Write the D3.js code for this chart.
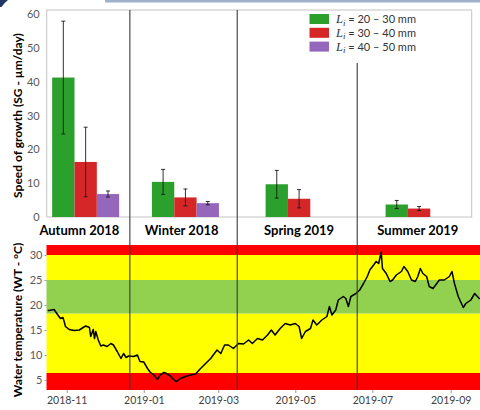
<!DOCTYPE html>
<html><head><meta charset="utf-8">
<script src="https://cdn.jsdelivr.net/npm/d3@7"></script>
<style>body{margin:0;background:#fff}svg{display:block}</style>
</head><body>
<script>
// ---------- DATA ----------
const categories = ["Autumn 2018", "Winter 2018", "Spring 2019", "Summer 2019"];
const groupDates = ["2018-11-16", "2019-02-03", "2019-05-04", "2019-08-07"];
const labelDates = ["2018-11-11", "2019-01-31", "2019-05-04", "2019-08-06"];
const seriesRanges = ["20 – 30 mm", "30 – 40 mm", "40 – 50 mm"];
const sg2030 = [41.3, 10.4, 9.7, 3.7];
const sg3040 = [16.3, 5.8, 5.4, 2.5];
const sg4050 = [6.8, 4.1, null, null];
const err2030 = [16.7, 3.7, 4.1, 1.2];
const err3040 = [10.3, 2.5, 2.7, 0.6];
const err4050 = [0.9, 0.5, null, null];
const topTicks = [0, 10, 20, 30, 40, 50, 60];

const seasonBreaks = ["2018-12-21", "2019-03-16", "2019-06-19"];
const bandEdges = [3, 6.4, 18.3, 25, 30, 32];
const bandColors = ["#ff0000", "#ffff00", "#92d050", "#ffff00", "#ff0000"];
const bottomTicks = [5, 10, 15, 20, 25, 30];
const dateTicks = ["2018-11-01", "2019-01-01", "2019-03-01", "2019-05-01", "2019-07-01", "2019-09-01"];

const tempDates = ["2018-10-17","2018-10-18","2018-10-22","2018-10-25","2018-10-27","2018-10-29","2018-10-30","2018-10-31",
"2018-11-03","2018-11-07","2018-11-11","2018-11-14","2018-11-16","2018-11-19","2018-11-20","2018-11-22","2018-11-23","2018-11-24",
"2018-11-26","2018-11-28","2018-11-30","2018-12-03","2018-12-06","2018-12-08","2018-12-11","2018-12-14","2018-12-16","2018-12-18",
"2018-12-20","2018-12-24","2018-12-27","2018-12-29","2019-01-01","2019-01-04","2019-01-06","2019-01-09","2019-01-12","2019-01-14",
"2019-01-17","2019-01-19","2019-01-22","2019-01-25","2019-01-27","2019-01-30","2019-02-03","2019-02-07","2019-02-11","2019-02-15",
"2019-02-19","2019-02-23","2019-02-28","2019-03-03","2019-03-06","2019-03-09","2019-03-13","2019-03-17","2019-03-21","2019-03-25",
"2019-03-28","2019-04-01","2019-04-05","2019-04-09","2019-04-12","2019-04-15","2019-04-19","2019-04-23","2019-04-27","2019-05-01",
"2019-05-04","2019-05-06","2019-05-09","2019-05-13","2019-05-15","2019-05-18","2019-05-22","2019-05-26","2019-05-28","2019-05-30",
"2019-06-02","2019-06-04","2019-06-08","2019-06-10","2019-06-12","2019-06-14","2019-06-18","2019-06-21","2019-06-24","2019-06-27",
"2019-06-29","2019-07-02","2019-07-04","2019-07-06","2019-07-08","2019-07-09","2019-07-12","2019-07-15","2019-07-17","2019-07-20",
"2019-07-24","2019-07-26","2019-07-29","2019-08-01","2019-08-04","2019-08-06","2019-08-08","2019-08-10","2019-08-13","2019-08-15",
"2019-08-18","2019-08-21","2019-08-23","2019-08-27","2019-08-31","2019-09-02","2019-09-04","2019-09-07","2019-09-11","2019-09-13",
"2019-09-17","2019-09-20","2019-09-24"];
const tempValues = [18.9,18.9,19.1,18.0,17.3,17.5,16.7,15.7,
15.1,14.9,15.0,15.5,15.8,15.5,13.7,15.1,13.3,14.7,
13.0,11.8,12.0,11.7,12.3,12.0,10.7,9.3,10.3,9.5,
9.8,9.7,10.0,8.7,8.6,7.3,6.6,6.0,5.1,6.0,
6.5,6.3,5.8,5.0,4.7,5.3,5.7,6.0,6.2,7.3,
8.3,9.3,11.0,10.3,12.0,12.0,11.3,12.3,12.2,13.0,
12.3,13.3,13.0,14.0,15.0,14.0,15.3,16.3,16.0,16.3,
15.7,13.3,14.7,15.3,17.0,16.0,17.0,17.7,19.7,18.0,
19.0,21.0,21.7,21.3,19.7,21.7,22.3,23.0,24.3,25.7,
27.0,28.0,28.7,28.3,30.6,27.3,26.3,24.7,25.0,26.0,
26.7,27.7,26.7,25.0,24.7,25.7,27.3,26.3,25.7,23.7,
23.3,24.3,25.0,25.0,25.7,26.7,24.3,21.7,19.5,20.3,
21.0,22.3,21.2];

// ---------- CHART ----------
const parse = d3.timeParse("%Y-%m-%d");
const W = 480, H = 410;
const svg = d3.select("body").append("svg").attr("width", W).attr("height", H)
  .style("font-family", "Lato, 'Open Sans', sans-serif");

// slide decorations at top
svg.append("rect").attr("x", 105).attr("y", 0).attr("width", 375).attr("height", 2.5).attr("fill", "#9fb0cc");
svg.append("path").attr("d", "M0,0 L8,0 Q4,3 1.5,7 L0,7 Z").attr("fill", "#1f3864");

const x = d3.scaleTime().domain([parse("2018-10-16"), parse("2019-09-30")]).range([46.5, 487.3]);

// ---- top chart ----
const yTop = d3.scaleLinear().domain([0, 61.3]).range([217, 10]);
const topLeft = 46.7, topRight = 471.7;
svg.append("rect").attr("x", topLeft).attr("y", yTop.range()[1]).attr("width", topRight - topLeft)
  .attr("height", yTop.range()[0] - yTop.range()[1]).attr("fill", "none").attr("stroke", "#c4c4c4").attr("stroke-width", 1);

const yTopAxis = svg.append("g").attr("transform", `translate(${topLeft},0)`)
  .call(d3.axisLeft(yTop).tickValues(topTicks).tickSize(0).tickPadding(7));
yTopAxis.select(".domain").remove();
yTopAxis.selectAll("text").attr("font-size", 11).attr("fill", "#595959").attr("font-family", "Lato, sans-serif");

const seriesVals = [sg2030, sg3040, sg4050];
const seriesErr = [err2030, err3040, err4050];
const seriesColors = ["#2ca02c", "#d62728", "#9467bd"];
const inner = d3.scaleBand().domain([0, 1, 2]).range([-33.5, 33.5]).padding(0);

const barG = svg.append("g");
categories.forEach((c, i) => {
  const cx = x(parse(groupDates[i]));
  seriesVals.forEach((vals, s) => {
    const v = vals[i];
    if (v == null) return;
    barG.append("rect").attr("x", cx + inner(s)).attr("width", inner.bandwidth())
      .attr("y", yTop(v)).attr("height", yTop(0) - yTop(v)).attr("fill", seriesColors[s]);
  });
});
categories.forEach((c, i) => {
  const cx = x(parse(groupDates[i]));
  seriesVals.forEach((vals, s) => {
    const v = vals[i], e = seriesErr[s][i];
    if (v == null || e == null) return;
    const ex = cx + inner(s) + inner.bandwidth() / 2;
    const g = barG.append("g").attr("stroke", "#1a1a1a").attr("stroke-width", 0.9);
    g.append("line").attr("x1", ex).attr("x2", ex).attr("y1", yTop(v + e)).attr("y2", yTop(v - e));
    g.append("line").attr("x1", ex - 2).attr("x2", ex + 2).attr("y1", yTop(v + e)).attr("y2", yTop(v + e));
    g.append("line").attr("x1", ex - 2).attr("x2", ex + 2).attr("y1", yTop(v - e)).attr("y2", yTop(v - e));
  });
});

// category labels
svg.append("g").selectAll("text").data(categories).join("text")
  .attr("x", (d, i) => x(parse(labelDates[i]))).attr("y", 235)
  .attr("text-anchor", "middle").attr("font-weight", "bold").attr("font-size", 13).attr("fill", "#000")
  .text(d => d);

// legend
const leg = svg.append("g");
seriesRanges.forEach((r, s) => {
  const cy = 19 + s * 13.8;
  leg.append("rect").attr("x", 309.5).attr("y", cy - 5).attr("width", 19.5).attr("height", 10).attr("fill", seriesColors[s]);
  const t = leg.append("text").attr("x", 336).attr("y", cy + 4).attr("font-size", 11).attr("fill", "#333");
  t.append("tspan").attr("font-family", "'Liberation Serif', serif").attr("font-style", "italic").attr("font-size", 12.5).text("L");
  t.append("tspan").attr("font-family", "'Liberation Serif', serif").attr("font-style", "italic").attr("font-size", 9).attr("dy", 2.5).text("i");
  t.append("tspan").attr("dy", -2.5).text(" = " + r);
});

// y title top
svg.append("text").attr("transform", `translate(17,${(yTop.range()[0] + yTop.range()[1]) / 2 + 2}) rotate(-90)`)
  .attr("text-anchor", "middle").attr("dominant-baseline", "central")
  .attr("font-weight", "bold").attr("font-size", 12).attr("fill", "#000")
  .text("Speed of growth (SG - µm/day)");

// ---- bottom chart ----
const yBot = d3.scaleLinear().domain([3, 32]).range([390, 245]);
const botLeft = x.range()[0];
const bandG = svg.append("g");
bandColors.forEach((col, k) => {
  bandG.append("rect").attr("x", botLeft).attr("width", W - botLeft + 10)
    .attr("y", yBot(bandEdges[k + 1])).attr("height", yBot(bandEdges[k]) - yBot(bandEdges[k + 1]))
    .attr("fill", col);
});

const tempData = tempDates.map((d, i) => ({ date: parse(d), t: tempValues[i] }));
svg.append("path").datum(tempData)
  .attr("d", d3.line().x(d => x(d.date)).y(d => yBot(d.t)))
  .attr("fill", "none").attr("stroke", "#000").attr("stroke-width", 1.5).attr("stroke-linejoin", "round");

const yBotAxis = svg.append("g").attr("transform", `translate(${botLeft},0)`)
  .call(d3.axisLeft(yBot).tickValues(bottomTicks).tickSize(2).tickPadding(2));
yBotAxis.select(".domain").remove();
yBotAxis.selectAll("line").attr("stroke", "#999");
yBotAxis.selectAll("text").attr("font-size", 11).attr("fill", "#595959").attr("font-family", "Lato, sans-serif");

const xAxis = svg.append("g").attr("transform", `translate(0,${yBot.range()[0]})`)
  .call(d3.axisBottom(x).tickValues(dateTicks.map(parse)).tickFormat(d3.timeFormat("%Y-%m")).tickSize(3).tickPadding(4));
xAxis.select(".domain").remove();
xAxis.selectAll("line").attr("stroke", "#999");
xAxis.selectAll("text").attr("font-size", 10.5).attr("fill", "#404040").attr("font-family", "Lato, sans-serif");

svg.append("text").attr("transform", `translate(17,320) rotate(-90)`)
  .attr("text-anchor", "middle").attr("dominant-baseline", "central")
  .attr("font-weight", "bold").attr("font-size", 12).attr("fill", "#000")
  .text("Water temperature (WT - °C)");

// season dividers
const divTops = [yTop.range()[1], yTop.range()[1], 63];
svg.append("g").selectAll("line").data(seasonBreaks).join("line")
  .attr("x1", d => x(parse(d))).attr("x2", d => x(parse(d)))
  .attr("y1", (d, i) => divTops[i]).attr("y2", yBot.range()[0])
  .attr("stroke", "#3a3a3a").attr("stroke-width", 1.1);
</script>
</body></html>
